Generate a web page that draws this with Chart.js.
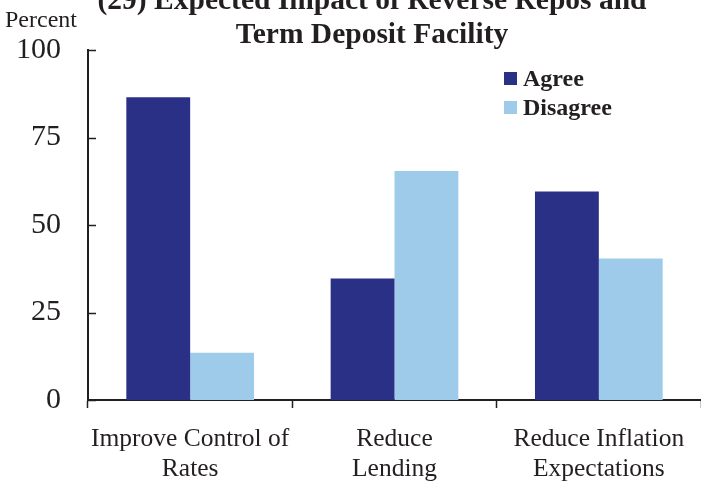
<!DOCTYPE html>
<html>
<head>
<meta charset="utf-8">
<script src="https://cdn.jsdelivr.net/npm/chart.js@4/dist/chart.umd.min.js"></script>
<style>
    html, body { margin: 0; padding: 0; background: #ffffff; }
    #wrap { width: 701px; height: 482px; }
</style>
</head>
<body>
<div id="wrap"><canvas id="impact-chart"></canvas></div>
<script>
const categories = [
    ["Improve Control of", "Rates"],
    ["Reduce", "Lending"],
    ["Reduce Inflation", "Expectations"],
];
const agree = [86.5, 34.7, 59.6];
const disagree = [13.5, 65.4, 40.4];
const yTicks = [0, 25, 50, 75, 100];
const titleLines = ["(29) Expected Impact of Reverse Repos and", "Term Deposit Facility"];

const serif = "'Liberation Serif', 'Times New Roman', serif";

// title, unit label, legend and inward y ticks
const extras = {
    id: "extras",
    afterDraw(chart) {
        const ctx = chart.ctx;
        const y = chart.scales.y;
        const area = chart.chartArea;
        ctx.save();
        ctx.fillStyle = "#231f20";
        ctx.textAlign = "center";
        ctx.textBaseline = "alphabetic";
        ctx.font = "bold 29.5px " + serif;
        ctx.fillText(titleLines[0], 372, 9);
        ctx.fillText(titleLines[1], 372, 43);

        ctx.textAlign = "left";
        ctx.font = "24px " + serif;
        ctx.fillText("Percent", 5, 27);

        ctx.strokeStyle = "#231f20";
        ctx.lineWidth = 1.5;
        yTicks.forEach((v) => {
            const py = Math.round(y.getPixelForValue(v)) + 0.5;
            ctx.beginPath();
            ctx.moveTo(area.left, py);
            ctx.lineTo(area.left + 8, py);
            ctx.stroke();
        });

        ctx.font = "bold 24px " + serif;
        ctx.textBaseline = "middle";
        chart.data.datasets.forEach((ds, i) => {
            const ly = 79 + i * 29;
            ctx.fillStyle = ds.backgroundColor;
            ctx.fillRect(504, ly - 7, 13, 13);
            ctx.fillStyle = "#231f20";
            ctx.fillText(ds.label, 523, ly + 1);
        });
        ctx.restore();
    },
};

new Chart(document.querySelector("#impact-chart").getContext("2d"), {
    type: "bar",
    data: {
        labels: categories,
        datasets: [
            {
                label: "Agree",
                data: agree,
                backgroundColor: "#2b3087",
                categoryPercentage: 0.625,
                barPercentage: 1,
            },
            {
                label: "Disagree",
                data: disagree,
                backgroundColor: "#9ecbea",
                categoryPercentage: 0.625,
                barPercentage: 1,
            },
        ],
    },
    options: {
        responsive: true,
        maintainAspectRatio: false,
        animation: false,
        layout: {
            padding: { top: 50, right: 0, left: 0, bottom: 0 },
        },
        scales: {
            x: {
                afterFit: (s) => { s.height = 82; },
                grid: {
                    display: true,
                    offset: true,
                    drawOnChartArea: false,
                    drawTicks: true,
                    tickLength: 8,
                    tickWidth: 1.5,
                    tickColor: "#231f20",
                },
                border: { color: "#231f20", width: 2 },
                ticks: {
                    color: "#231f20",
                    font: { family: serif, size: 25.5, lineHeight: 1.18 },
                    padding: 16,
                    maxRotation: 0,
                    autoSkip: false,
                },
            },
            y: {
                min: 0,
                max: 100,
                afterFit: (s) => { s.width = 88; },
                afterBuildTicks: (s) => { s.ticks = yTicks.map((v) => ({ value: v })); },
                grid: { display: false, drawTicks: false },
                border: { color: "#231f20", width: 2 },
                ticks: {
                    color: "#231f20",
                    font: { family: serif, size: 30 },
                    padding: 27,
                },
            },
        },
        plugins: {
            legend: { display: false },
            title: { display: false },
            tooltip: { enabled: false },
        },
    },
    plugins: [extras],
});
</script>
</body>
</html>
